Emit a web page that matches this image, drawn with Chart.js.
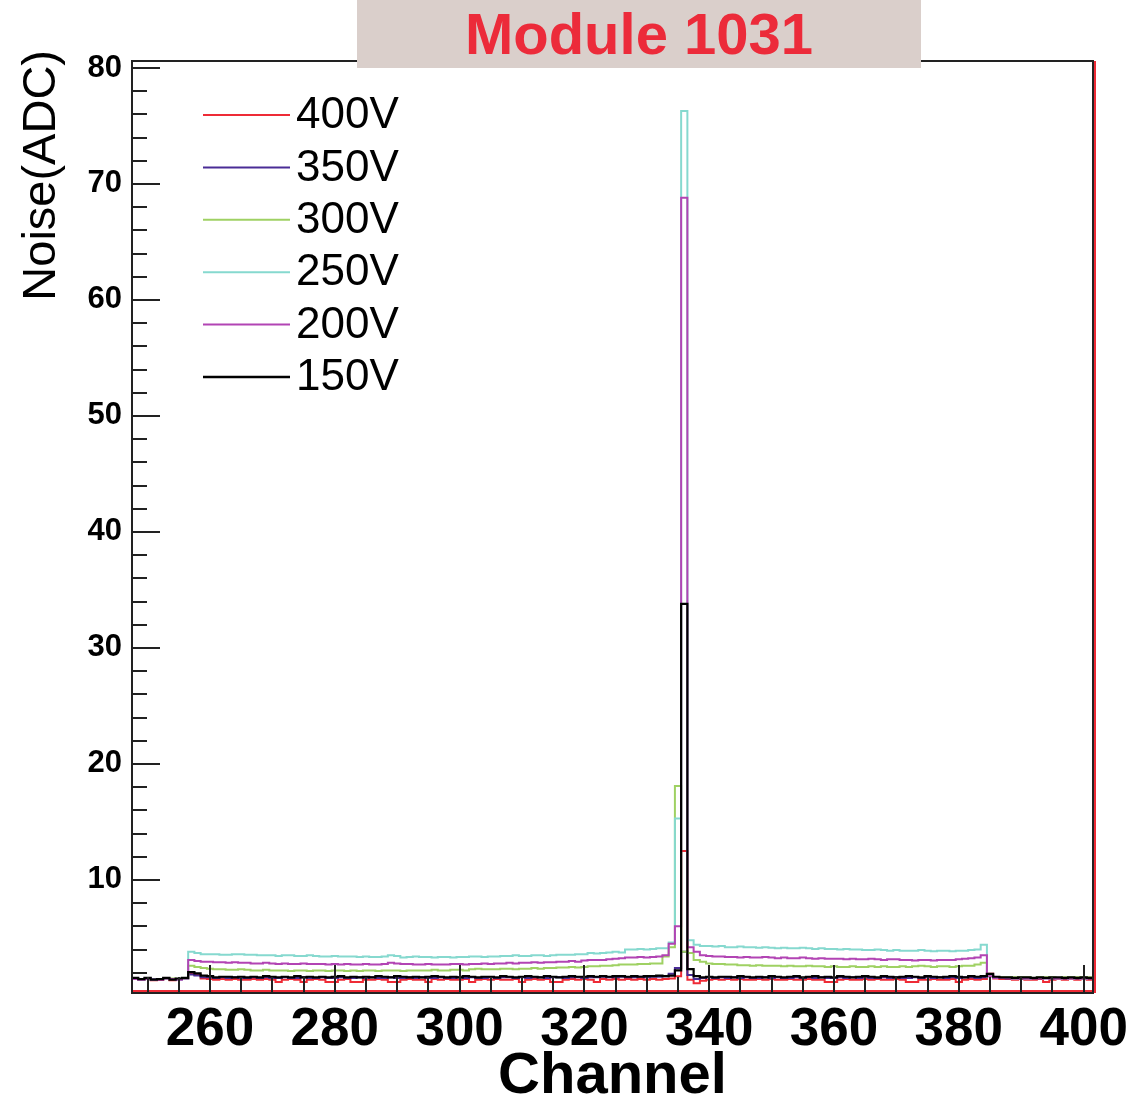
<!DOCTYPE html>
<html>
<head>
<meta charset="utf-8">
<title>Module 1031</title>
<script src="https://cdn.jsdelivr.net/npm/chart.js@4/dist/chart.umd.min.js"></script>
<style>
  html, body { margin: 0; padding: 0; background: #fff; }
  #wrap { width: 1147px; height: 1100px; }
</style>
</head>
<body>
<div id="wrap"><canvas id="noiseChart" width="1147" height="1100"></canvas></div>
<script>
// Noise per channel for module 1031, one value per channel (bin 1 wide).
var firstChannel = 248;
var seriesLabels = ['400V', '350V', '300V', '250V', '200V', '150V'];
var seriesColors = ['#ee2b36', '#4a2c96', '#9fd163', '#86d9cf', '#b244b4', '#000000'];

var noise400 = [
    1.45, 1.4, 1.45, 1.35, 1.4, 1.45, 1.35, 1.45, 1.5, 1.95,
    1.8, 1.5, 1.45, 1.4, 1.45, 1.4, 1.45, 1.4, 1.4, 1.45,
    1.4, 1.45, 1.4, 1.2, 1.4, 1.45, 1.4, 1.2, 1.4, 1.45,
    1.4, 1.2, 1.2, 1.4, 1.45, 1.2, 1.2, 1.4, 1.4, 1.45,
    1.4, 1.2, 1.2, 1.4, 1.45, 1.4, 1.4, 1.2, 1.45, 1.4,
    1.45, 1.4, 1.4, 1.45, 1.2, 1.4, 1.45, 1.4, 1.45, 1.4,
    1.4, 1.45, 1.2, 1.4, 1.45, 1.4, 1.45, 1.2, 1.2, 1.4,
    1.45, 1.4, 1.45, 1.4, 1.2, 1.45, 1.4, 1.45, 1.4, 1.45,
    1.4, 1.45, 1.4, 1.45, 1.4, 1.45, 1.5, 1.7, 12.5, 1.4,
    1.1, 1.3, 1.4, 1.45, 1.4, 1.45, 1.4, 1.45, 1.4, 1.4,
    1.45, 1.4, 1.45, 1.4, 1.4, 1.45, 1.4, 1.4, 1.45, 1.4,
    1.4, 1.2, 1.2, 1.4, 1.45, 1.4, 1.4, 1.45, 1.4, 1.45,
    1.4, 1.4, 1.45, 1.4, 1.2, 1.2, 1.4, 1.4, 1.45, 1.4,
    1.4, 1.45, 1.2, 1.4, 1.45, 1.4, 1.45, 1.9, 1.5, 1.45,
    1.45, 1.4, 1.45, 1.4, 1.4, 1.45, 1.2, 1.4, 1.45, 1.4,
    1.45, 1.4, 1.45, 1.4
];

var noise350 = [
    1.5, 1.45, 1.5, 1.45, 1.45, 1.5, 1.45, 1.45, 1.5, 1.85,
    1.75, 1.6, 1.6, 1.55, 1.6, 1.55, 1.6, 1.55, 1.55, 1.6,
    1.55, 1.6, 1.55, 1.55, 1.6, 1.55, 1.55, 1.6, 1.55, 1.55,
    1.6, 1.55, 1.55, 1.6, 1.55, 1.55, 1.6, 1.55, 1.6, 1.55,
    1.55, 1.6, 1.55, 1.55, 1.6, 1.55, 1.6, 1.55, 1.55, 1.6,
    1.55, 1.55, 1.6, 1.55, 1.6, 1.55, 1.55, 1.6, 1.55, 1.6,
    1.6, 1.55, 1.6, 1.55, 1.6, 1.6, 1.55, 1.6, 1.6, 1.55,
    1.6, 1.6, 1.55, 1.6, 1.6, 1.65, 1.6, 1.6, 1.65, 1.6,
    1.6, 1.65, 1.6, 1.65, 1.65, 1.7, 1.9, 2.4, 3.8, 1.8,
    1.45, 1.55, 1.6, 1.55, 1.6, 1.55, 1.6, 1.55, 1.6, 1.55,
    1.55, 1.6, 1.55, 1.6, 1.55, 1.55, 1.6, 1.55, 1.6, 1.55,
    1.6, 1.55, 1.55, 1.6, 1.55, 1.6, 1.55, 1.6, 1.55, 1.55,
    1.6, 1.55, 1.6, 1.55, 1.55, 1.6, 1.55, 1.6, 1.55, 1.6,
    1.55, 1.6, 1.55, 1.6, 1.6, 1.55, 1.6, 1.75, 1.55, 1.55,
    1.5, 1.55, 1.5, 1.55, 1.5, 1.5, 1.55, 1.5, 1.55, 1.5,
    1.55, 1.5, 1.55, 1.5
];

var noise300 = [
    1.45, 1.45, 1.45, 1.4, 1.45, 1.5, 1.5, 1.45, 1.5, 2.6,
    2.5, 2.4, 2.35, 2.3, 2.3, 2.25, 2.25, 2.3, 2.25, 2.2,
    2.2, 2.25, 2.2, 2.2, 2.2, 2.15, 2.2, 2.2, 2.15, 2.2,
    2.2, 2.15, 2.2, 2.2, 2.15, 2.2, 2.15, 2.2, 2.2, 2.15,
    2.2, 2.2, 2.2, 2.15, 2.2, 2.2, 2.2, 2.2, 2.25, 2.2,
    2.2, 2.25, 2.25, 2.2, 2.3, 2.35, 2.3, 2.3, 2.3, 2.35,
    2.35, 2.3, 2.35, 2.35, 2.4, 2.35, 2.4, 2.4, 2.45, 2.45,
    2.5, 2.45, 2.5, 2.55, 2.55, 2.6, 2.6, 2.65, 2.7, 2.7,
    2.7, 2.75, 2.75, 2.8, 2.8, 3.4, 4.2, 18.1, 3.8, 3.7,
    3.1, 2.95, 2.8, 2.75, 2.75, 2.7, 2.7, 2.65, 2.65, 2.6,
    2.65, 2.6, 2.6, 2.6, 2.55, 2.6, 2.55, 2.55, 2.6, 2.55,
    2.55, 2.5, 2.55, 2.5, 2.5, 2.55, 2.5, 2.5, 2.55, 2.5,
    2.55, 2.5, 2.5, 2.55, 2.5, 2.55, 2.6, 2.55, 2.5, 2.55,
    2.55, 2.5, 2.55, 2.6, 2.6, 2.7, 2.85, 1.7, 1.6, 1.6,
    1.6, 1.6, 1.6, 1.6, 1.55, 1.6, 1.6, 1.6, 1.55, 1.6,
    1.6, 1.6, 1.6, 1.6
];

var noise250 = [
    1.45, 1.4, 1.45, 1.4, 1.45, 1.5, 1.45, 1.4, 1.5, 3.8,
    3.7, 3.6, 3.6, 3.6, 3.55, 3.55, 3.6, 3.6, 3.55, 3.55,
    3.5, 3.5, 3.5, 3.45, 3.5, 3.5, 3.45, 3.45, 3.5, 3.45,
    3.4, 3.4, 3.45, 3.4, 3.4, 3.4, 3.35, 3.4, 3.35, 3.35,
    3.4, 3.5, 3.45, 3.3, 3.35, 3.4, 3.35, 3.35, 3.3, 3.35,
    3.35, 3.3, 3.35, 3.35, 3.4, 3.4, 3.35, 3.4, 3.4, 3.45,
    3.45, 3.5, 3.45, 3.45, 3.5, 3.5, 3.45, 3.5, 3.55, 3.55,
    3.55, 3.6, 3.6, 3.7, 3.65, 3.7, 3.75, 3.8, 3.75, 4.0,
    4.0, 4.05, 4.0, 4.05, 4.1, 4.1, 4.6, 15.3, 76.3, 4.8,
    4.4, 4.3, 4.3, 4.25, 4.3, 4.2, 4.2, 4.25, 4.2, 4.2,
    4.15, 4.2, 4.15, 4.1, 4.15, 4.1, 4.1, 4.15, 4.1, 4.05,
    4.1, 4.05, 4.05, 4.0, 4.05, 4.0, 4.0, 3.95, 3.95, 4.0,
    3.95, 3.9, 3.95, 3.9, 3.9, 3.9, 3.95, 3.9, 3.85, 3.9,
    3.9, 3.85, 3.9, 3.9, 3.95, 4.0, 4.4, 1.7, 1.55, 1.55,
    1.55, 1.5, 1.55, 1.5, 1.55, 1.55, 1.5, 1.55, 1.5, 1.55,
    1.5, 1.55, 1.5, 1.55
];

var noise200 = [
    1.45, 1.4, 1.45, 1.4, 1.4, 1.5, 1.45, 1.4, 1.5, 3.1,
    3.0, 2.95, 2.95, 2.9, 2.9, 2.85, 2.9, 2.85, 2.85, 2.8,
    2.8, 2.85, 2.8, 2.75, 2.8, 2.75, 2.75, 2.8, 2.75, 2.75,
    2.75, 2.7, 2.75, 2.7, 2.75, 2.7, 2.7, 2.75, 2.7, 2.7,
    2.75, 2.85, 2.8, 2.75, 2.75, 2.7, 2.7, 2.75, 2.7, 2.7,
    2.7, 2.75, 2.75, 2.7, 2.75, 2.75, 2.8, 2.75, 2.8, 2.8,
    2.85, 2.8, 2.85, 2.85, 2.9, 2.85, 2.9, 2.9, 2.95, 2.95,
    3.0, 2.95, 3.05, 3.1, 3.1, 3.1, 3.15, 3.2, 3.25, 3.3,
    3.3, 3.35, 3.3, 3.35, 3.4, 3.5, 4.5, 6.0, 68.8, 4.2,
    3.8, 3.5, 3.45, 3.4, 3.4, 3.35, 3.35, 3.3, 3.35, 3.3,
    3.3, 3.35, 3.3, 3.25, 3.3, 3.25, 3.25, 3.3, 3.25, 3.2,
    3.25, 3.2, 3.2, 3.2, 3.15, 3.2, 3.15, 3.15, 3.2, 3.15,
    3.1, 3.15, 3.15, 3.1, 3.1, 3.05, 3.1, 3.1, 3.05, 3.1,
    3.1, 3.1, 3.15, 3.2, 3.25, 3.3, 3.5, 1.7, 1.55, 1.55,
    1.55, 1.5, 1.55, 1.5, 1.55, 1.55, 1.5, 1.55, 1.5, 1.55,
    1.5, 1.55, 1.5, 1.55
];

var noise150 = [
    1.55, 1.45, 1.55, 1.4, 1.45, 1.55, 1.4, 1.5, 1.55, 2.05,
    1.95, 1.75, 1.7, 1.6, 1.65, 1.65, 1.6, 1.65, 1.6, 1.65,
    1.6, 1.7, 1.65, 1.6, 1.65, 1.6, 1.7, 1.6, 1.65, 1.6,
    1.65, 1.6, 1.65, 1.7, 1.6, 1.65, 1.6, 1.65, 1.6, 1.7,
    1.65, 1.6, 1.7, 1.65, 1.6, 1.65, 1.6, 1.65, 1.7, 1.65,
    1.6, 1.65, 1.6, 1.7, 1.65, 1.6, 1.65, 1.65, 1.6, 1.7,
    1.65, 1.6, 1.65, 1.7, 1.65, 1.6, 1.7, 1.65, 1.6, 1.65,
    1.7, 1.65, 1.65, 1.7, 1.65, 1.7, 1.65, 1.7, 1.7, 1.65,
    1.7, 1.65, 1.7, 1.7, 1.75, 1.7, 1.75, 2.2, 33.8, 2.3,
    1.7, 1.6, 1.65, 1.6, 1.65, 1.65, 1.6, 1.7, 1.65, 1.6,
    1.65, 1.6, 1.7, 1.65, 1.6, 1.65, 1.7, 1.6, 1.65, 1.7,
    1.6, 1.65, 1.6, 1.7, 1.65, 1.6, 1.65, 1.7, 1.65, 1.6,
    1.7, 1.65, 1.6, 1.65, 1.7, 1.65, 1.6, 1.7, 1.65, 1.6,
    1.65, 1.7, 1.65, 1.6, 1.7, 1.65, 1.7, 1.9, 1.65, 1.6,
    1.6, 1.55, 1.6, 1.6, 1.55, 1.6, 1.55, 1.6, 1.6, 1.55,
    1.6, 1.55, 1.6, 1.55
];

var seriesValues = [noise400, noise350, noise300, noise250, noise200, noise150];
// later series are drawn on top (150V last, like the ROOT canvas)
var drawOrder = [5, 4, 3, 2, 1, 0];

var xMin = 247.5;
var xMax = 401.5;
var yMin = 0.25;
var yMax = 80.6;

var fontFamily = '"Liberation Sans", Arial, sans-serif';

// histogram outline: one point per bin edge; value holds until the next edge
function toSteps(values) {
    var pts = [];
    for (var i = 0; i < values.length; i++) {
        pts.push({x: firstChannel + i - 0.5, y: values[i]});
    }
    pts.push({x: firstChannel + values.length - 0.5, y: values[values.length - 1]});
    return pts;
}

var datasets = seriesLabels.map(function(label, k) {
    return {
        label: label,
        data: toSteps(seriesValues[k]),
        borderColor: seriesColors[k],
        backgroundColor: seriesColors[k],
        borderWidth: k === 5 ? 2.2 : 2,
        stepped: 'before',
        pointRadius: 0,
        fill: false,
        order: drawOrder[k]
    };
});

// frame, inward tick marks, legend, titles
var framePlugin = {
    id: 'rootFrame',
    afterDatasetsDraw: function(chart) {
        var ctx = chart.ctx;
        var a = chart.chartArea;
        var xs = chart.scales.x;
        var ys = chart.scales.y;
        ctx.save();

        // extra red edge of the 400V histogram
        ctx.strokeStyle = seriesColors[0];
        ctx.lineWidth = 2;
        ctx.beginPath();
        ctx.moveTo(a.left, a.bottom - 2);
        ctx.lineTo(a.right, a.bottom - 2);
        ctx.moveTo(a.right + 2, a.top);
        ctx.lineTo(a.right + 2, a.bottom);
        ctx.stroke();

        ctx.strokeStyle = '#222';
        ctx.lineWidth = 2;
        ctx.strokeRect(a.left, a.top, a.right - a.left, a.bottom - a.top);

        ctx.beginPath();
        xs.ticks.forEach(function(t) {
            var px = Math.round(xs.getPixelForValue(t.value));
            var len = t.value % 20 === 0 ? 28 : 16;
            ctx.moveTo(px, a.bottom);
            ctx.lineTo(px, a.bottom - len);
        });
        ys.ticks.forEach(function(t) {
            var py = Math.round(ys.getPixelForValue(t.value));
            var len = t.value % 10 === 0 ? 28 : 15;
            ctx.moveTo(a.left, py);
            ctx.lineTo(a.left + len, py);
        });
        ctx.stroke();
        ctx.restore();
    },
    afterDraw: function(chart) {
        var ctx = chart.ctx;
        ctx.save();

        ctx.font = '44px ' + fontFamily;
        ctx.textBaseline = 'middle';
        ctx.textAlign = 'left';
        seriesLabels.forEach(function(label, k) {
            var y = 115 + k * 52.4;
            ctx.strokeStyle = seriesColors[k];
            ctx.lineWidth = k === 5 ? 2.4 : 2;
            ctx.beginPath();
            ctx.moveTo(203, y);
            ctx.lineTo(290, y);
            ctx.stroke();
            ctx.fillStyle = '#000';
            ctx.fillText(label, 296, y + 1);
        });

        // y axis title, top aligned like ROOT
        ctx.save();
        ctx.translate(42, 50);
        ctx.rotate(-Math.PI / 2);
        ctx.textAlign = 'right';
        ctx.textBaseline = 'middle';
        ctx.fillStyle = '#000';
        ctx.font = '47px ' + fontFamily;
        ctx.fillText('Noise(ADC)', 0, 0);
        ctx.restore();

        // title box
        ctx.fillStyle = '#dacfcb';
        ctx.fillRect(357, 0, 564, 68);
        ctx.fillStyle = '#ec2b3a';
        ctx.font = 'bold 58px ' + fontFamily;
        ctx.textAlign = 'center';
        ctx.textBaseline = 'middle';
        ctx.fillText('Module 1031', 639, 38);
        ctx.restore();
    }
};

new Chart(document.getElementById('noiseChart').getContext('2d'), {
    type: 'line',
    data: {datasets: datasets},
    options: {
        responsive: false,
        animation: false,
        layout: {padding: {top: 61, right: 54, left: 0, bottom: 0}},
        plugins: {
            legend: {display: false},
            tooltip: {enabled: false}
        },
        scales: {
            x: {
                type: 'linear',
                min: xMin,
                max: xMax,
                afterFit: function(scale) { scale.height = 107; },
                grid: {display: false, drawTicks: false},
                border: {display: false},
                ticks: {
                    stepSize: 5,
                    includeBounds: false,
                    autoSkip: false,
                    maxRotation: 0,
                    padding: 6,
                    color: '#000',
                    font: {family: fontFamily, size: 53, weight: 'bold'},
                    callback: function(v) { return v % 20 === 0 ? String(v) : ''; }
                },
                title: {
                    display: true,
                    text: 'Channel',
                    color: '#000',
                    padding: {top: 0, bottom: 0},
                    font: {family: fontFamily, size: 58, weight: 'bold', lineHeight: 0.8}
                }
            },
            y: {
                type: 'linear',
                min: yMin,
                max: yMax,
                afterFit: function(scale) { scale.width = 132; },
                grid: {display: false, drawTicks: false},
                border: {display: false},
                ticks: {
                    stepSize: 2,
                    includeBounds: false,
                    autoSkip: false,
                    padding: 10,
                    color: '#000',
                    font: {family: fontFamily, size: 31, weight: 'bold'},
                    callback: function(v) { return v % 10 === 0 ? String(v) : ''; }
                }
            }
        }
    },
    plugins: [framePlugin]
});
</script>
</body>
</html>
